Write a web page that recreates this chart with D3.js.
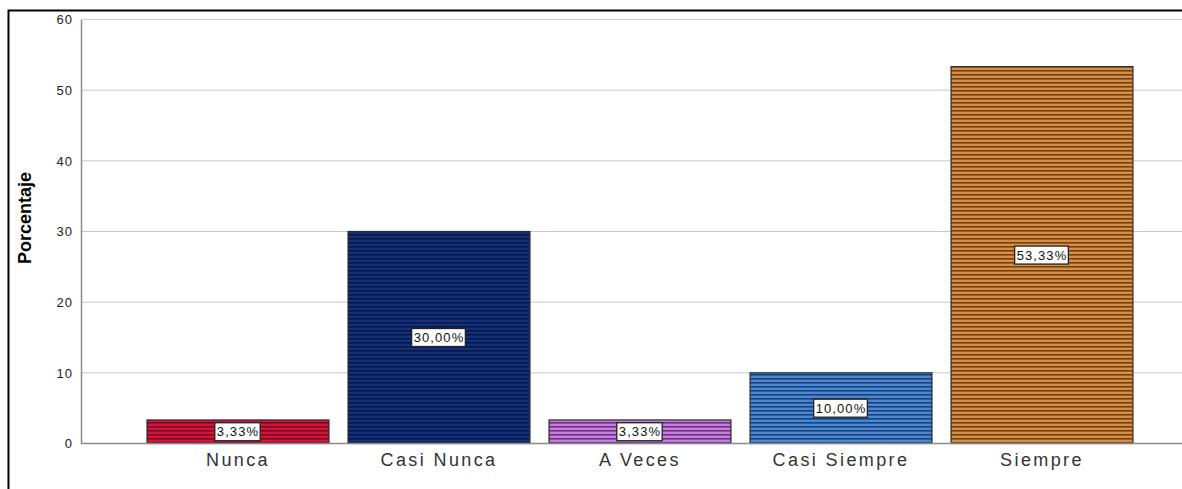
<!DOCTYPE html>
<html>
<head>
<meta charset="utf-8">
<script src="https://cdn.jsdelivr.net/npm/d3@7"></script>
<style>
    body { margin: 0; background: #fff; }
    svg { display: block; }
</style>
</head>
<body>
<svg id="chart"></svg>
<script>
var categories = ["Nunca", "Casi Nunca", "A Veces", "Casi Siempre", "Siempre"];
var percentages = [3.33, 30.00, 3.33, 10.00, 53.33];
var valueLabels = ["3,33%", "30,00%", "3,33%", "10,00%", "53,33%"];
var yTicks = [0, 10, 20, 30, 40, 50, 60];
var barColors = [
    {light: "#d0163c", dark: "#7a0a1e"},
    {light: "#13307a", dark: "#061640"},
    {light: "#c77fdc", dark: "#6e2e82"},
    {light: "#4a88d6", dark: "#1c3f72"},
    {light: "#d88e44", dark: "#6e4318"}
];

var width = 1182, height = 489;
var plot = {left: 81, top: 19.5, bottom: 443.5, right: 1182};

var svg = d3.select("#chart")
    .attr("width", width)
    .attr("height", height);

// stripe patterns
var defs = svg.append("defs");
barColors.forEach(function (c, i) {
    var p = defs.append("pattern")
        .attr("id", "stripe" + i)
        .attr("patternUnits", "userSpaceOnUse")
        .attr("width", 8)
        .attr("height", 4);
    p.append("rect").attr("width", 8).attr("height", 4).attr("fill", c.light);
    p.append("rect").attr("y", 2).attr("width", 8).attr("height", 1.6).attr("fill", c.dark);
});

// outer frame
svg.append("rect")
    .attr("x", 8.5)
    .attr("y", 10.5)
    .attr("width", 1200)
    .attr("height", 500)
    .attr("fill", "none")
    .attr("stroke", "#000")
    .attr("stroke-width", 2);

var x = d3.scaleBand()
    .domain(categories)
    .range([137.5, 1142.5])
    .paddingInner(0.095)
    .paddingOuter(0.0475);

var y = d3.scaleLinear()
    .domain([0, 60])
    .range([plot.bottom, plot.top]);

// grid lines
svg.append("g")
    .selectAll("line")
    .data(yTicks.slice(1))
    .enter()
    .append("line")
    .attr("x1", plot.left)
    .attr("x2", plot.right)
    .attr("y1", function (d) { return y(d); })
    .attr("y2", function (d) { return y(d); })
    .attr("stroke", "#c8c8c8")
    .attr("stroke-width", 1);

// y axis
var yAxis = svg.append("g")
    .attr("transform", "translate(" + plot.left + ",0)")
    .call(d3.axisLeft(y).tickValues(yTicks).tickSize(0).tickPadding(8));
yAxis.select(".domain").attr("stroke", "#8c8c8c").attr("stroke-width", 1.5);
yAxis.selectAll("text")
    .attr("font-family", "Liberation Sans, Arial, sans-serif")
    .attr("font-size", 13)
    .attr("letter-spacing", 1)
    .attr("fill", "#222");

// bars
svg.append("g")
    .selectAll("rect")
    .data(percentages)
    .enter()
    .append("rect")
    .attr("x", function (d, i) { return x(categories[i]); })
    .attr("y", function (d) { return y(d); })
    .attr("width", x.bandwidth())
    .attr("height", function (d) { return y(0) - y(d); })
    .attr("fill", function (d, i) { return "url(#stripe" + i + ")"; })
    .attr("stroke", "#2a2a2a")
    .attr("stroke-width", 1.2);

// x axis baseline
svg.append("line")
    .attr("x1", plot.left)
    .attr("x2", plot.right)
    .attr("y1", y(0))
    .attr("y2", y(0))
    .attr("stroke", "#8c8c8c")
    .attr("stroke-width", 1.5);

// category labels
var xAxis = svg.append("g")
    .attr("transform", "translate(0," + y(0) + ")")
    .call(d3.axisBottom(x).tickSize(0).tickPadding(10));
xAxis.select(".domain").remove();
xAxis.selectAll("text")
    .attr("font-family", "Liberation Sans, Arial, sans-serif")
    .attr("font-size", 18)
    .attr("letter-spacing", 2.4)
    .attr("fill", "#333");

// value labels
var labels = svg.append("g")
    .selectAll("g")
    .data(percentages)
    .enter()
    .append("g")
    .attr("transform", function (d, i) {
        var cx = x(categories[i]) + x.bandwidth() / 2;
        var cy = (y(d) + y(0)) / 2;
        return "translate(" + cx + "," + cy + ")";
    });
labels.append("text")
    .attr("text-anchor", "middle")
    .attr("dy", "0.36em")
    .attr("font-family", "Liberation Sans, Arial, sans-serif")
    .attr("font-size", 13)
    .attr("letter-spacing", 1.1)
    .attr("fill", "#111")
    .text(function (d, i) { return valueLabels[i]; });
labels.each(function () {
    var g = d3.select(this);
    var bb = g.select("text").node().getBBox();
    g.insert("rect", "text")
        .attr("x", bb.x - 2)
        .attr("y", -9)
        .attr("width", bb.width + 3)
        .attr("height", 18)
        .attr("fill", "#fff")
        .attr("stroke", "#222")
        .attr("stroke-width", 1.3);
});

// y title
svg.append("text")
    .attr("transform", "translate(31,218) rotate(-90)")
    .attr("text-anchor", "middle")
    .attr("font-family", "Liberation Sans Narrow, Arial Narrow, sans-serif")
    .attr("font-weight", "bold")
    .attr("font-size", 18)
    .attr("fill", "#000")
    .text("Porcentaje");
</script>
</body>
</html>
